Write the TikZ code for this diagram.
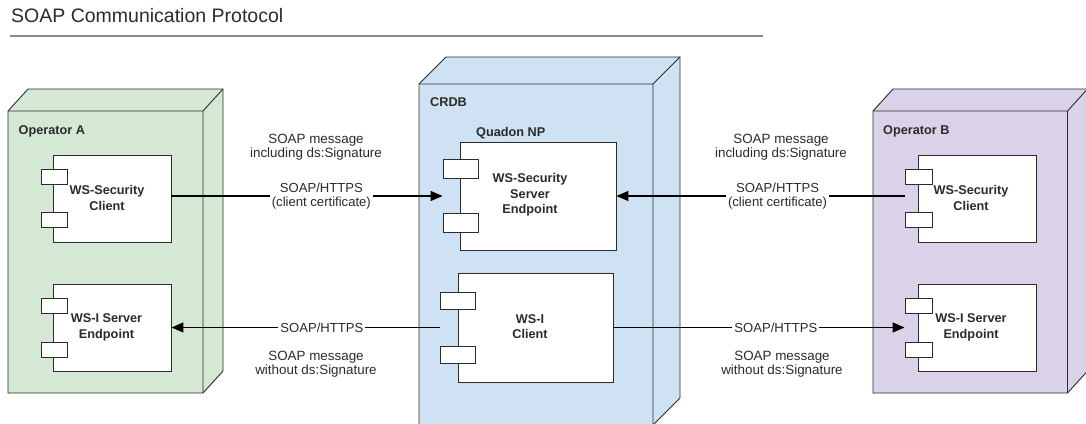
\documentclass[tikz,border=0pt]{standalone}
\usepackage{fontspec}
\setmainfont{Liberation Sans}
\usetikzlibrary{arrows.meta}
\definecolor{opA}{HTML}{D5E8D4}
\definecolor{crdb}{HTML}{CFE2F3}
\definecolor{opB}{HTML}{DAD2E9}
\definecolor{ink}{HTML}{2B2B2B}
\definecolor{rule}{HTML}{8A8A8A}
\newcommand\mycube[7]{%
  \filldraw[cubeline, fill=#7] (#1,#2+#6) -- (#1+#5,#2) -- (#3,#2) -- (#3,#4-#6) -- (#3-#5,#4) -- (#1,#4) -- cycle;
  \draw[cubeline] (#1,#2+#6) -- (#3-#5,#2+#6) -- (#3-#5,#4) (#3-#5,#2+#6) -- (#3,#2);
}
\begin{document}
\begin{tikzpicture}[x=1pt,y=-1pt,
  cubeline/.style={draw=ink, line width=0.9pt, line join=miter},
  comp/.style={draw=ink, fill=white, line width=0.9pt, inner sep=0pt},
  port/.style={draw=ink, fill=white, line width=0.9pt, inner sep=0pt},
  ctext/.style={font=\fontsize{12.7}{15.5}\selectfont\bfseries, align=center, text=ink, inner sep=0pt},
  grp/.style={font=\fontsize{12.7}{15}\selectfont\bfseries, text=ink, inner sep=0pt, anchor=base west},
  elabel/.style={font=\fontsize{13.1}{14}\selectfont, align=center, text=ink, fill=white, inner xsep=2pt, inner ysep=1pt},
  mlabel/.style={font=\fontsize{13.4}{13.6}\selectfont, align=center, text=ink, inner sep=0pt},
  conn/.style={draw=black, line width=1.3pt, -{Triangle[length=12pt,width=10pt]}}]
\useasboundingbox (0,0) rectangle (1086,423);
\begin{scope}
\clip (0,0) rectangle (1086,423);

% title
\node[anchor=base west, inner sep=0pt, font=\fontsize{19.5}{22}\selectfont, text=ink] (title) at (11,22.5) {SOAP Communication Protocol};
\draw[rule, line width=1.8pt] (10,36) -- (763,36);

% cubes
\mycube{8}{89}{223}{393}{20}{22}{opA}
\mycube{419}{57}{680}{425}{27}{27}{crdb}
\mycube{873}{89}{1087.5}{393}{20}{22}{opB}

\node[grp] (opAl) at (18.5,134.5) {Operator A};
\node[grp] (crdbl) at (430,106) {CRDB};
\node[grp] (opBl) at (883,134) {Operator B};
\node[grp] (quad) at (476,136) {Quadon NP};

% Operator A components
\node[comp, minimum width=118pt, minimum height=87pt] (A1) at (112,198.5) {};
\node[port, minimum width=26pt, minimum height=15pt] (A1a) at (54,176.5) {};
\node[port, minimum width=26pt, minimum height=15pt] (A1b) at (54,219.5) {};
\node[ctext] (A1t) at (107,198) {WS-Security\\Client};

\node[comp, minimum width=118pt, minimum height=87pt] (A2) at (112,327.5) {};
\node[port, minimum width=26pt, minimum height=15pt] (A2a) at (54,305.5) {};
\node[port, minimum width=26pt, minimum height=15pt] (A2b) at (54,349.5) {};
\node[ctext] (A2t) at (106.5,327.5) {WS-I Server\\Endpoint};

% CRDB components
\node[comp, minimum width=156pt, minimum height=108pt] (S) at (538,196) {};
\node[port, minimum width=35pt, minimum height=19pt] (Sa) at (460.5,168.5) {};
\node[port, minimum width=35pt, minimum height=19pt] (Sb) at (460.5,223) {};
\node[ctext] (St) at (530,195) {WS-Security\\Server\\Endpoint};

\node[comp, minimum width=155pt, minimum height=109pt] (C) at (535.5,327.5) {};
\node[port, minimum width=35pt, minimum height=17pt] (Ca) at (457.5,300.5) {};
\node[port, minimum width=35pt, minimum height=17pt] (Cb) at (457.5,354.5) {};
\node[ctext] (Ct) at (530,326.5) {WS-I\\Client};

% Operator B components
\node[comp, minimum width=118pt, minimum height=87pt] (B1) at (977,198.5) {};
\node[port, minimum width=27pt, minimum height=15pt] (B1a) at (918.5,176.5) {};
\node[port, minimum width=27pt, minimum height=15pt] (B1b) at (918.5,219.5) {};
\node[ctext] (B1t) at (971,198) {WS-Security\\Client};

\node[comp, minimum width=118pt, minimum height=87pt] (B2) at (977,327.5) {};
\node[port, minimum width=27pt, minimum height=15pt] (B2a) at (918.5,305.5) {};
\node[port, minimum width=27pt, minimum height=15pt] (B2b) at (918.5,349.5) {};
\node[ctext] (B2t) at (971,327.5) {WS-I Server\\Endpoint};

% connectors
\draw[conn] (A1.east |- S.west) -- (Sa.west |- S.west)
  node[elabel, pos=0.553] (e1) {SOAP/HTTPS\\(client certificate)};
\draw[conn] (B1a.west |- S.east) -- (S.east)
  node[elabel, pos=0.441] (e2) {SOAP/HTTPS\\(client certificate)};
\draw[conn] (Ca.west |- C.west) -- (A2.east |- C.west)
  node[elabel, pos=0.439] (e3) {SOAP/HTTPS};
\draw[conn] (C.east) -- (B2a.west |- C.east)
  node[elabel, pos=0.558] (e4) {SOAP/HTTPS};

% message notes
\node[mlabel] (m1) at (316,147.5) {SOAP message\\including ds:Signature};
\node[mlabel] (m2) at (781,147.5) {SOAP message\\including ds:Signature};
\node[mlabel] (m3) at (316,364) {SOAP message\\without ds:Signature};
\node[mlabel] (m4) at (782,364) {SOAP message\\without ds:Signature};
\end{scope}
\end{tikzpicture}
\end{document}
